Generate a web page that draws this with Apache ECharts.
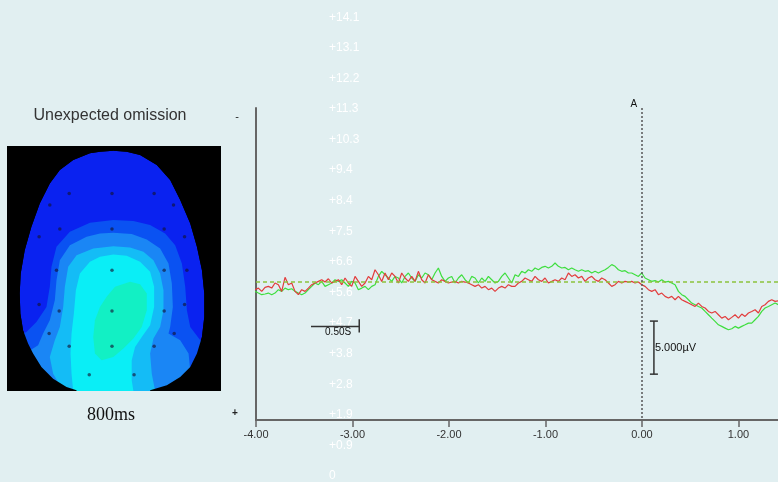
<!DOCTYPE html>
<html>
<head>
<meta charset="utf-8">
<script src="https://cdn.jsdelivr.net/npm/echarts@6/dist/echarts.min.js"></script>
<style>
  html, body { margin: 0; padding: 0; background: #e1eff1; }
  #chart { width: 778px; height: 482px; }
</style>
</head>
<body>
<div id="chart"></div>
<script>
// ERP averages (µV, negative plotted upward), sampled from -4.01 s in steps of 0.03455 s
const sampleStart = -4.01;
const sampleStep = 0.03455;

const redUv = [
  0.72, 0.57, 0.88, 0.50, 0.41, 0.57, 0.09, 0.25, 0.88, -0.44,
  0.25, 0.09, 0.88, 1.19, 0.72, 0.88, 0.57, 0.25, 0.09, -0.06,
  -0.22, 0.00, -0.31, 0.09, -0.06, -0.22, 0.25, -0.38, 0.09, 0.41,
  -0.53, -0.06, 0.41, 0.09, -0.53, -0.22, -1.16, -0.69, -0.06, -0.85,
  -0.22, -0.85, -0.53, 0.09, -0.85, -0.38, -0.06, -0.53, -0.06, -1.01,
  -0.22, 0.09, -0.69, -0.22, -0.06, 0.09, -0.22, -0.06, 0.09, 0.00,
  -0.06, 0.09, -0.06, 0.00, 0.09, 0.25, 0.41, 0.25, 0.57, 0.41,
  0.72, 0.57, 0.88, 0.57, 0.41, 0.57, 0.25, 0.41,
  0.41, 0.09, -0.06, -0.38, -0.22, -0.06, -0.53, -0.22, -0.06, -0.38,
  0.09, -0.06, -0.22, -0.06, -0.38, -0.22, -0.85, -0.53, -0.69, -0.38,
  -0.53, -0.06, -0.38, -0.53, -0.22, -0.06, -0.38, -0.22, 0.09, 0.41,
  0.25, -0.06, 0.09, -0.06, 0.00, -0.06, 0.09, 0.00, 0.25, 0.41,
  0.72, 0.88, 0.72, 1.19, 1.04, 1.35, 1.51, 1.35, 1.67, 1.35,
  1.67, 1.82, 1.98, 2.14, 2.30, 1.98, 2.30, 2.45, 2.77, 2.92,
  2.77, 3.08, 3.40, 3.24, 3.55, 3.33, 3.08, 3.40, 3.02, 3.24,
  2.92, 2.77, 2.61, 2.92, 2.30, 2.14, 1.82, 1.67, 1.82, 1.76
];

const greenUv = [
  0.88, 1.04, 1.19, 1.13, 1.04, 1.19, 1.04, 0.72, 0.88, 0.57,
  0.72, 0.63, 0.88, 1.04, 1.19, 1.04, 0.72, 0.41, 0.09, 0.25,
  -0.06, 0.41, 0.25, 0.09, -0.22, -0.06, -0.22, 0.09, 0.41, -0.06,
  0.09, 0.72, 0.57, 0.41, 0.72, 0.41, 0.25, -0.53, -1.01, -0.69,
  -0.38, -0.06, -0.53, -0.38, 0.09, -0.53, -0.85, -0.38, -0.06, -0.69,
  -0.38, -0.85, -0.69, -0.22, -0.85, -1.32, -0.53, -0.06, -0.38, -0.53,
  0.09, -0.38, -0.69, -0.22, 0.09, -0.53, -0.38, 0.09, -0.38, -0.06,
  -0.53, -0.22, 0.09, -0.06, -0.53, -0.85, -0.38, 0.09,
  -0.69, -0.53, -1.01, -0.85, -1.16, -1.01, -1.32, -1.16, -1.38, -1.48,
  -1.32, -1.48, -1.79, -1.48, -1.32, -1.38, -1.16, -1.32, -1.16, -1.01,
  -1.16, -1.01, -1.07, -0.85, -1.01, -0.85, -1.01, -1.16, -1.38, -1.64,
  -1.48, -1.16, -1.01, -1.07, -0.85, -0.85, -0.69, -0.53, -0.85, -0.38,
  -0.22, -0.06, -0.13, 0.00, -0.22, 0.00, -0.06, 0.09, 0.25, 0.88,
  1.19, 1.35, 1.67, 1.98, 2.14, 2.30, 2.45, 2.77, 3.08, 3.40,
  3.71, 4.03, 4.18, 4.34, 4.50, 4.40, 4.18, 4.34, 4.18, 4.03,
  3.87, 3.87, 3.55, 3.24, 2.77, 2.45, 2.30, 2.14, 1.98, 2.14
];

// Faint amplitude scale printed behind the plot
const scaleLabels = ['0', '+0.9', '+1.9', '+2.8', '+3.8', '+4.7', '+5.6', '+6.6',
  '+7.5', '+8.4', '+9.4', '+10.3', '+11.3', '+12.2', '+13.1', '+14.1'];
const scaleStep = 0.9375;

// Calibration bars
const timeBar = { start: -3.43, end: -2.93, level: 4.2, capFrom: 3.5, capTo: 4.75, label: '0.50S' };
const ampBar = { time: 0.124, from: 3.68, to: 8.68, label: '5.000µV' };

// Scalp map at 800 ms: head outline and iso-potential bands (head-local units)
const headRight = [[340,32],[380,35],[420,45],[470,75],[510,120],[540,180],[570,250],[590,320],
  [605,390],[612,460],[612,530],[605,590],[590,640],[570,680],[540,710],[500,735],[450,750]];
const headLeft = [[340,32],[300,35],[270,40],[220,60],[180,90],[150,130],[120,190],[95,260],
  [75,330],[63,400],[60,460],[62,520],[70,570],[85,610],[100,640],[125,680],[160,715],[200,740],[230,750]];
const band2 = [[340,240],[400,243],[450,255],[495,280],[525,315],[545,370],[555,440],[560,510],
  [570,560],[600,600],[640,640],[640,752],[40,752],[40,590],[80,575],[110,545],[140,500],[150,440],
  [155,380],[170,320],[210,275],[270,248]];
const band3 = [[340,278],[395,282],[440,298],[480,325],[505,370],[515,430],[518,500],[510,560],
  [505,580],[540,600],[565,640],[570,690],[550,720],[520,752],[40,752],[60,650],[115,615],[130,580],
  [150,540],[165,480],[170,420],[180,360],[210,315],[260,290],[300,280]];
const band4 = [[340,318],[390,322],[430,335],[460,360],[480,400],[490,450],[490,510],[480,560],
  [460,595],[450,640],[455,700],[465,752],[190,752],[160,700],[150,650],[165,600],[180,560],
  [190,500],[195,440],[205,380],[230,345],[280,325]];
const band5 = [[340,343],[380,347],[420,365],[450,395],[462,440],[462,500],[450,555],[425,590],
  [405,620],[395,660],[395,720],[400,752],[220,752],[215,700],[212,640],[215,580],[222,520],
  [228,450],[240,400],[270,365],[300,350]];
const band6 = [[390,425],[420,432],[440,460],[440,510],[425,560],[400,595],[370,625],[340,650],
  [305,660],[285,640],[280,590],[285,540],[300,500],[320,470],[345,440]];
const electrodes = [[208,160],[336,160],[462,160],[150,195],[520,195],[180,267],[336,267],[492,267],
  [118,290],[553,290],[170,390],[336,390],[492,390],[560,390],[118,493],[553,493],[178,512],
  [336,512],[492,512],[148,580],[522,580],[208,618],[336,618],[462,618],[268,703],[402,703]];

const headOutline = headRight.concat(headLeft.slice(1).reverse());
const maskLeft = [[22,18],[340,18]].concat(headLeft, [[230,752],[22,752]]);
const maskRight = [[340,18],[662,18],[662,752],[450,752]].concat(headRight.slice().reverse());

const topoLayers = [
  { pts: headOutline, color: '#0a22f0' },
  { pts: band2, color: '#0a52f2' },
  { pts: band3, color: '#1a86f5' },
  { pts: band4, color: '#14bcf6' },
  { pts: band5, color: '#0aeef6' },
  { pts: band6, color: '#12f0c4' },
  { pts: maskLeft, color: '#000000' },
  { pts: maskRight, color: '#000000' }
];

const SANS = '"Liberation Sans", Arial, sans-serif';
const SERIF = '"Liberation Serif", "Times New Roman", serif';

const toPoints = arr => arr.map((v, i) => [+(sampleStart + i * sampleStep).toFixed(4), v]);

const chart = echarts.init(document.getElementById('chart'), null, { renderer: 'canvas' });

chart.setOption({
  backgroundColor: '#e1eff1',
  animation: false,
  grid: [
    { left: 256, top: 108, right: 0, bottom: 62 },
    { left: 329, top: 3, bottom: 1, width: 20 },
    { left: 7, top: 146, width: 214, height: 245, show: true, backgroundColor: '#000', borderWidth: 0 }
  ],
  xAxis: [
    {
      gridIndex: 0, type: 'value', min: -4, max: 1.41, interval: 1,
      axisLine: { onZero: false, lineStyle: { color: '#666', width: 2 } },
      axisTick: { length: 7, lineStyle: { color: '#666', width: 1.5 } },
      axisLabel: { formatter: v => v.toFixed(2), color: '#333', fontSize: 11, fontFamily: SANS, margin: 9, showMaxLabel: false },
      splitLine: { show: false }
    },
    { gridIndex: 1, type: 'value', show: false, min: 0, max: 1 },
    { gridIndex: 2, type: 'value', show: false, min: 22, max: 662 }
  ],
  yAxis: [
    {
      gridIndex: 0, type: 'value', min: -16.4, max: 13, inverse: true,
      axisLine: { show: true, onZero: false, lineStyle: { color: '#666', width: 2 } },
      axisTick: { show: false }, axisLabel: { show: false }, splitLine: { show: false }
    },
    {
      gridIndex: 1, type: 'value', min: 0, max: 14.5, interval: scaleStep,
      axisLine: { show: false }, axisTick: { show: false }, splitLine: { show: false },
      axisLabel: {
        inside: true, margin: 0, color: '#ffffff', fontSize: 12, fontFamily: SANS, showMaxLabel: false,
        formatter: v => scaleLabels[Math.round(v / scaleStep)] || ''
      }
    },
    { gridIndex: 2, type: 'value', show: false, min: 18, max: 752, inverse: true }
  ],
  series: [
    {
      name: 'green', type: 'line', xAxisIndex: 0, yAxisIndex: 0,
      data: toPoints(greenUv), showSymbol: false, symbol: 'none',
      lineStyle: { color: '#3ede3e', width: 1.2 }, z: 3,
      markLine: {
        silent: true, symbol: 'none', label: { show: false }, animation: false,
        data: [
          { yAxis: 0, lineStyle: { type: [4, 3], color: '#8cc43c', width: 1.5 } },
          { xAxis: 0, lineStyle: { type: [2, 2], color: '#555', width: 1.5 } }
        ]
      }
    },
    {
      name: 'red', type: 'line', xAxisIndex: 0, yAxisIndex: 0,
      data: toPoints(redUv), showSymbol: false, symbol: 'none',
      lineStyle: { color: '#e23c3c', width: 1.2 }, z: 4
    },
    {
      type: 'custom', xAxisIndex: 2, yAxisIndex: 2, silent: true, z: 2, clip: true,
      data: topoLayers.map((_, i) => [i]),
      renderItem: (params, api) => {
        const layer = topoLayers[api.value(0)];
        return {
          type: 'polygon',
          shape: { points: layer.pts.map(p => api.coord(p)) },
          style: { fill: layer.color, stroke: null }
        };
      }
    },
    {
      type: 'scatter', xAxisIndex: 2, yAxisIndex: 2, silent: true, z: 3,
      data: electrodes, symbolSize: 3.5,
      itemStyle: { color: 'rgba(20,20,50,0.8)' }
    }
  ]
});

// Annotations placed through the plot's own scales
const px = p => chart.convertToPixel({ gridIndex: 0 }, p);
const tA = px([timeBar.start, timeBar.level]);
const tB = px([timeBar.end, timeBar.level]);
const tC1 = px([timeBar.end, timeBar.capFrom]);
const tC2 = px([timeBar.end, timeBar.capTo]);
const aT = px([ampBar.time, ampBar.from]);
const aB = px([ampBar.time, ampBar.to]);
const zeroTop = px([0, -16.4]);
const barStyle = { stroke: '#333', lineWidth: 1.5 };

const txt = (text, x, y, font, fill, align) => ({
  type: 'text', silent: true, z: 10,
  style: { text, x, y, font, fill, align: align || 'center', verticalAlign: 'middle',
           textAlign: align || 'center', textVerticalAlign: 'middle' }
});
const line = (x1, y1, x2, y2) => ({
  type: 'line', silent: true, z: 10, shape: { x1, y1, x2, y2 }, style: barStyle
});

chart.setOption({
  graphic: [
    line(tA[0], tA[1], tB[0], tB[1]),
    line(tC1[0], tC1[1], tC2[0], tC2[1]),
    txt(timeBar.label, (tA[0] + tB[0]) / 2 + 3, tA[1] + 6, '10px ' + SANS, '#111'),
    line(aT[0], aT[1], aB[0], aB[1]),
    line(aT[0] - 4, aT[1], aT[0] + 4, aT[1]),
    line(aB[0] - 4, aB[1], aB[0] + 4, aB[1]),
    txt(ampBar.label, aT[0] + 1, (aT[1] + aB[1]) / 2, '11px ' + SANS, '#111', 'left'),
    txt('A', zeroTop[0] - 8, zeroTop[1] - 4, '10px ' + SANS, '#111'),
    txt('-', 237, 117, '11px ' + SANS, '#222'),
    txt('+', 235, 413, 'bold 10px ' + SANS, '#222'),
    txt('Unexpected omission', 110, 116, '16px ' + SANS, '#333'),
    txt('800ms', 111, 415, '18px ' + SERIF, '#111')
  ]
});
</script>
</body>
</html>
